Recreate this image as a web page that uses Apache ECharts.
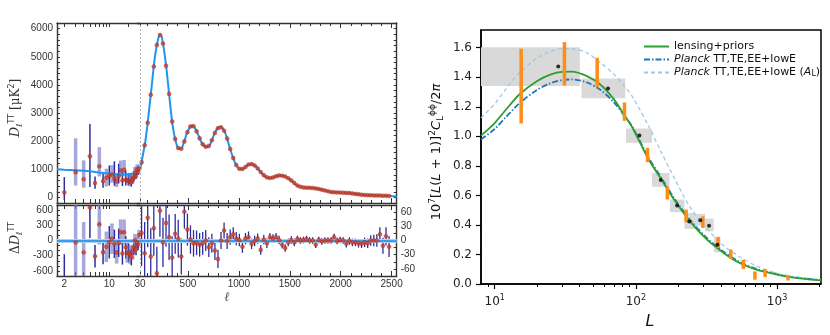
<!DOCTYPE html>
<html lang="en">
<head>
<meta charset="UTF-8">
<title>Planck TT spectrum and lensing power spectrum</title>
<script src="https://cdn.jsdelivr.net/npm/echarts@6.0.0/dist/echarts.min.js"></script>
<style>
  html, body { margin: 0; padding: 0; background: #fff; }
  #chart { width: 830px; height: 335px; }
</style>
</head>
<body>
<div id="chart"></div>
<script>
// ---------- left panel, low multipoles (log part, 2-29) ----------
const lowL = [2, 3, 4, 5, 6, 7, 8, 9, 10, 11, 12, 13, 14, 15, 16, 17, 18, 19, 20, 21, 22, 23, 24, 25, 26, 27, 28, 29];
const lowD = [175, 890, 645, 1460, 510, 1105, 575, 700, 770, 816, 663, 567, 745, 960, 603, 980, 627, 603, 590, 560, 540, 620, 700, 880, 760, 1000, 900, 1020];
const lowUp = [545, 1210, 670, 1150, 235, 680, 320, 320, 365, 330, 620, 300, 450, 350, 300, 350, 320, 250, 280, 300, 250, 220, 200, 200, 180, 170, 160, 150];
const lowDn = [260, 470, 300, 1090, 200, 360, 230, 310, 345, 300, 250, 200, 250, 200, 200, 230, 200, 180, 160, 170, 150, 140, 130, 120, 110, 100, 100, 90];
const lowLight = [0, 1, 1, 0, 0, 1, 0, 1, 0, 1, 0, 1, 0, 1, 0, 1, 0, 1, 0, 1, 0, 1, 0, 1, 0, 1, 0, 1];
const lowRes = [-820, -40, -235, 650, -310, 320, -230, -125, -35, 35, -65, -235, -45, 165, -255, 165, -135, -240, -240, -280, -330, -230, -140, 0, -170, -40, -80, 110];
const lowResErr = [550, 800, 600, 600, 220, 400, 240, 300, 320, 300, 280, 220, 280, 250, 220, 250, 220, 200, 180, 180, 160, 150, 140, 130, 120, 110, 110, 100];

// best-fit model curve
const lowModelL = [1.54, 2, 3, 4, 5, 6, 8, 10, 13, 16, 20, 25, 30];
const lowModelD = [1000, 985, 965, 945, 925, 905, 870, 845, 820, 810, 820, 870, 960];
const hiModelL = [30, 45, 60, 80, 100, 120, 140, 160, 180, 200, 215, 230, 245, 265, 290, 320, 350, 380, 410, 435,
  460, 490, 520, 545, 570, 600, 630, 660, 690, 720, 750, 780, 810, 840, 870, 900, 930, 960, 990, 1020,
  1050, 1080, 1110, 1140, 1170, 1200, 1230, 1260, 1290, 1320, 1350, 1380, 1410, 1440, 1470, 1500, 1530, 1560, 1590, 1620,
  1660, 1700, 1740, 1780, 1820, 1860, 1900, 1950, 2000, 2050, 2100, 2150, 2200, 2250, 2300, 2350, 2400, 2450, 2500, 2550];
const hiModelD = [960, 1250, 1550, 1950, 2500, 3150, 3800, 4500, 5100, 5500, 5720, 5790, 5680, 5250, 4550, 3500, 2550, 2000, 1720, 1730,
  1950, 2280, 2500, 2560, 2460, 2230, 1980, 1820, 1790, 1900, 2180, 2400, 2500, 2460, 2260, 1900, 1550, 1250, 1060, 1000,
  1030, 1130, 1190, 1170, 1090, 960, 840, 740, 690, 690, 730, 770, 780, 760, 710, 640, 560, 460, 390, 360,
  345, 338, 330, 305, 270, 230, 195, 178, 170, 162, 145, 122, 95, 80, 72, 68, 62, 55, 45, 35];

// ---------- left panel, binned high multipoles (linear part) ----------
const hiL = [45, 75, 105, 135, 165, 195, 225, 255, 285, 315, 345,
  375, 405, 435, 465, 495, 525, 555, 585, 615, 645, 675,
  705, 735, 765, 795, 825, 855, 885, 915, 945, 975, 1005,
  1035, 1065, 1095, 1125, 1155, 1185, 1215, 1245, 1275, 1305, 1335,
  1365, 1395, 1425, 1455, 1485, 1515, 1545, 1575, 1605, 1635, 1665,
  1695, 1725, 1755, 1785, 1815, 1845, 1875, 1905, 1935, 1965, 1995,
  2025, 2055, 2085, 2115, 2145, 2175, 2205, 2235, 2265, 2295, 2325,
  2355, 2385, 2415, 2445, 2475];
const hiD = [1250, 1850, 2650, 3650, 4650, 5420, 5770, 5470, 4680, 3680, 2700,
  2080, 1760, 1730, 1990, 2320, 2520, 2530, 2350, 2100, 1890, 1800,
  1830, 2030, 2290, 2460, 2490, 2370, 2090, 1720, 1400, 1150, 1020,
  1010, 1080, 1165, 1185, 1135, 1030, 900, 790, 712, 688, 708,
  752, 778, 772, 738, 678, 602, 512, 425, 374, 354, 344,
  339, 333, 320, 300, 274, 245, 220, 194, 183, 175, 170,
  166, 160, 152, 138, 123, 108, 94, 84, 78, 73, 70,
  67, 64, 60, 56, 50];
const hiRes = [16, -27, 48, -34, 26, -69, 63, -4, 37, 7, -36,
  14, 4, -34, 61, 23, 2, -6, -5, -9, -6, 0,
  -14, -6, -21, -39, 0, 21, -1, 7, 13, 4, 1,
  -13, 4, 7, -7, -1, 4, -20, 2, -6, 7, 4,
  7, 1, -9, -16, -4, 1, -4, 3, 0, 1, 3,
  0, 0, -9, 1, -2, 0, 0, 0, 7, -1, 1,
  0, -7, -1, -4, -4, -6, -7, -4, -6, 0, 0,
  0, 13, -11, 9, -13];
const hiErr = [70, 66, 62, 60, 58, 56, 55, 52, 50, 48, 45,
  42, 40, 38, 36, 34, 30, 28, 26, 25, 24, 22,
  21, 20, 20, 19, 18, 17, 17, 16, 15, 14, 13,
  13, 12, 12, 11, 11, 11, 10, 10, 10, 9, 9,
  9, 9, 8, 8, 8, 8, 8, 7, 7, 7, 7,
  7, 7, 7, 7, 7, 7, 7, 7, 7, 7, 7,
  7, 8, 8, 8, 8, 9, 9, 10, 10, 11, 12,
  13, 15, 17, 19, 22];

// left panel tick labels
const lowTicks = [2, 3, 4, 5, 6, 7, 8, 9, 10, 20, 30];
const lowLabels = [2, 10];
const hiTicks = [500, 1000, 1500, 2000, 2500];
const hiLabels = [30, 500, 1000, 1500, 2000, 2500];
const ttLabels = [0, 1000, 2000, 3000, 4000, 5000, 6000];
const resLowLabels = [-600, -300, 0, 300, 600];
const resHiLabels = [60, 30, 0, -30, -60];

// ---------- right panel: lensing potential spectrum ----------
const lensL = [8, 10, 12, 15, 20, 25, 30, 35, 45, 56, 70, 82, 95, 123, 150, 190, 242, 319, 416, 543, 714, 940, 1235, 2048];
const priorsV = [1.005, 1.09, 1.18, 1.285, 1.375, 1.42, 1.437, 1.438, 1.408, 1.351, 1.25, 1.15, 1.055, 0.845, 0.715, 0.56, 0.424, 0.30, 0.212, 0.142, 0.097, 0.07, 0.047, 0.024];
const planckV = [0.978, 1.05, 1.13, 1.225, 1.315, 1.36, 1.382, 1.385, 1.365, 1.315, 1.23, 1.145, 1.06, 0.855, 0.725, 0.57, 0.435, 0.31, 0.22, 0.15, 0.102, 0.073, 0.05, 0.026];
const planckALV = [1.125, 1.22, 1.32, 1.43, 1.53, 1.575, 1.594, 1.593, 1.565, 1.5, 1.42, 1.345, 1.265, 1.07, 0.9, 0.705, 0.52, 0.375, 0.262, 0.185, 0.122, 0.08, 0.054, 0.028];

// grey bins (band powers) and their centres
const binLmin = [8, 41.2, 85.2, 130, 174, 221, 262, 309, 358];
const binLmax = [40.1, 84.2, 130, 173, 221, 262, 309, 356, 398];
const binVmin = [1.34, 1.257, 0.956, 0.658, 0.486, 0.373, 0.395, 0.357, 0.214];
const binVmax = [1.604, 1.392, 1.053, 0.752, 0.572, 0.481, 0.475, 0.443, 0.319];
const dotL = [28.2, 63.5, 106, 150, 196, 239, 286, 330, 378];
const dotV = [1.473, 1.324, 1.005, 0.705, 0.531, 0.424, 0.431, 0.395, 0.266];

// orange error bars
const orL = [15.4, 31.2, 53.2, 83, 121, 167, 227, 298, 382, 470, 577, 697, 823, 1196];
const orLo = [1.087, 1.345, 1.336, 1.105, 0.825, 0.572, 0.418, 0.38, 0.244, 0.169, 0.102, 0.029, 0.047, 0.024];
const orHi = [1.593, 1.638, 1.532, 1.229, 0.922, 0.658, 0.504, 0.458, 0.319, 0.233, 0.165, 0.085, 0.102, 0.056];

const lensTicks = [10, 100, 1000];
const lensMinor = [9, 20, 30, 40, 50, 60, 70, 80, 90, 200, 300, 400, 500, 600, 700, 800, 900, 2000];
const lensYLabels = [0, 0.2, 0.4, 0.6, 0.8, 1.0, 1.2, 1.4, 1.6];

// ---------- helpers ----------
const zip = (a, b) => a.map((v, i) => [v, b[i]]);
const axisCol = '#333';
const leftFont = { fontSize: 10, color: '#333', fontFamily: 'Liberation Sans', formatter: v => String(v) };

function lowX(grid, pos, labels) {
  return {
    type: 'log', logBase: 10, gridIndex: grid, position: pos, min: 1.54, max: 30,
    axisLine: { show: true, onZero: false, lineStyle: { color: axisCol, width: 1.4 } },
    axisTick: { show: true, inside: true, length: 4, customValues: lowTicks, lineStyle: { color: axisCol } },
    axisLabel: labels ? Object.assign({ show: true, customValues: labels, margin: 3 }, leftFont) : { show: false },
    splitLine: { show: false }
  };
}
function highX(grid, pos, labels) {
  return {
    type: 'value', gridIndex: grid, position: pos, min: 0, max: 2550, interval: 500,
    axisLine: { show: true, onZero: false, lineStyle: { color: axisCol, width: 1.4 } },
    axisTick: { show: true, inside: true, length: 5, customValues: hiTicks, lineStyle: { color: axisCol } },
    minorTick: { show: true, splitNumber: 5, length: 3, lineStyle: { color: axisCol } },
    axisLabel: labels ? Object.assign({ show: true, customValues: labels, margin: 3 }, leftFont) : { show: false },
    splitLine: { show: false }, minorSplitLine: { show: false }
  };
}
function leftY(grid, pos, min, max, step, labels) {
  return {
    type: 'value', gridIndex: grid, position: pos, min: min, max: max, interval: step,
    axisLine: { show: true, onZero: false, lineStyle: { color: axisCol, width: 1.4 } },
    axisTick: { show: true, inside: true, length: 3, lineStyle: { color: axisCol } },
    axisLabel: labels ? Object.assign({ show: true, customValues: labels, margin: 4 }, leftFont) : { show: false },
    splitLine: { show: false }
  };
}
function vbar(lineWidthFn, colorFn) {
  return function (params, api) {
    const a = api.coord([api.value(0), api.value(1)]);
    const b = api.coord([api.value(0), api.value(2)]);
    return {
      type: 'line',
      shape: { x1: a[0], y1: a[1], x2: b[0], y2: b[1] },
      style: { stroke: colorFn(api), lineWidth: lineWidthFn(api) }
    };
  };
}
const lowBarWidth = api => api.value(3) ? 3.5 : 1.5;
const lowBarColor = api => api.value(3) ? 'rgba(120,120,200,0.65)' : '#2d2d9e';

const redDot = { color: '#dd3b20', borderColor: '#7d1c10', borderWidth: 0.4 };
const vline30 = { xAxis: 30, lineStyle: { color: '#b0b0b0', type: [2, 2], width: 1 } };
const zeroBand = { yAxis: 0, lineStyle: { color: '#a9d2f5', width: 4, type: 'solid' } };
const zeroLine = { yAxis: 0, lineStyle: { color: '#1a8ae6', width: 1.5, type: 'solid' } };
const mk = data => ({ silent: true, symbol: 'none', label: { show: false }, data: data });

const sup = { fontSize: 8, verticalAlign: 'top', lineHeight: 8, fontFamily: 'DejaVu Sans' };
const sub = { fontSize: 8, verticalAlign: 'bottom', lineHeight: 8, fontFamily: 'DejaVu Sans' };

const chart = echarts.init(document.getElementById('chart'), null, { renderer: 'canvas' });
chart.setOption({
  animation: false,
  backgroundColor: '#fff',
  grid: [
    { left: 57, top: 23, width: 83, height: 180 },
    { left: 137, top: 23, width: 259.7, height: 180 },
    { left: 57, top: 205, width: 83, height: 71 },
    { left: 137, top: 205, width: 259.7, height: 71 },
    { left: 481, top: 30, width: 340, height: 254, show: true, borderColor: '#000', borderWidth: 1.5 }
  ],
  xAxis: [
    lowX(0, 'bottom', null), lowX(0, 'top', null),
    highX(1, 'bottom', null), highX(1, 'top', null),
    lowX(2, 'bottom', lowLabels), lowX(2, 'top', null),
    highX(3, 'bottom', hiLabels), highX(3, 'top', null),
    {
      type: 'log', logBase: 10, gridIndex: 4, position: 'bottom', min: 8, max: 2048,
      axisLine: { show: true, onZero: false, lineStyle: { color: '#000', width: 1.5 } },
      axisTick: { show: true, length: 5, customValues: lensTicks, lineStyle: { color: '#000', width: 1.2 } },
      axisLabel: {
        show: true, customValues: lensTicks, margin: 10,
        formatter: v => '{b|10}{s|' + Math.round(Math.log10(v)) + '}',
        rich: {
          b: { fontSize: 12, fontFamily: 'DejaVu Sans', color: '#222', lineHeight: 16 },
          s: { fontSize: 8, fontFamily: 'DejaVu Sans', color: '#222', verticalAlign: 'top', lineHeight: 9 }
        }
      },
      splitLine: { show: false }
    },
    {
      type: 'log', logBase: 10, gridIndex: 4, position: 'bottom', min: 8, max: 2048,
      axisLine: { show: false, onZero: false },
      axisTick: { show: true, length: 3, customValues: lensMinor, lineStyle: { color: '#000', width: 1 } },
      axisLabel: { show: false }, splitLine: { show: false }
    }
  ],
  yAxis: [
    leftY(0, 'left', -200, 6200, 200, ttLabels),
    leftY(1, 'right', -200, 6200, 200, null),
    leftY(2, 'left', -700, 700, 100, resLowLabels),
    leftY(3, 'right', -75, 75, 15, resHiLabels),
    {
      type: 'value', gridIndex: 4, position: 'left', min: 0, max: 1.72,
      axisLine: { show: true, onZero: false, lineStyle: { color: '#000', width: 1.5 } },
      axisTick: { show: true, length: 5, customValues: lensYLabels, lineStyle: { color: '#000', width: 1.2 } },
      axisLabel: {
        show: true, customValues: lensYLabels, margin: 9, formatter: v => v.toFixed(1),
        fontSize: 12, fontFamily: 'DejaVu Sans', color: '#222'
      },
      splitLine: { show: false }
    }
  ],
  legend: {
    orient: 'vertical', left: 638, top: 36, itemWidth: 25, itemHeight: 10, itemGap: 2,
    itemStyle: { opacity: 0 },
    data: ['lensing+priors', 'Planck TT,TE,EE+lowE', 'Planck TT,TE,EE+lowE (AL)'],
    formatter: name => name === 'lensing+priors' ? name
      : (name.indexOf('(AL)') > 0 ? '{i|Planck} TT,TE,EE+lowE ({i|A}{sb|L})' : '{i|Planck} TT,TE,EE+lowE'),
    textStyle: {
      fontSize: 11, fontFamily: 'DejaVu Sans', color: '#111',
      rich: {
        i: { fontSize: 11, fontFamily: 'DejaVu Sans', fontStyle: 'italic', color: '#111' },
        sb: { fontSize: 8, fontFamily: 'DejaVu Sans', color: '#111', verticalAlign: 'bottom', lineHeight: 8 }
      }
    }
  },
  graphic: [
    {
      type: 'text', x: 16, y: 108, rotation: Math.PI / 2,
      style: {
        text: '{m|D}{sb|ℓ}{sp|TT} [μK{sp|2}]', align: 'center', verticalAlign: 'middle',
        fontSize: 12, fontFamily: 'DejaVu Serif', fill: '#333',
        rich: { m: { fontSize: 13, fontStyle: 'italic', fontFamily: 'DejaVu Serif', lineHeight: 16 }, sp: sup, sb: sub }
      }
    },
    {
      type: 'text', x: 16, y: 238, rotation: Math.PI / 2,
      style: {
        text: 'Δ{m|D}{sb|ℓ}{sp|TT}', align: 'center', verticalAlign: 'middle',
        fontSize: 12, fontFamily: 'DejaVu Serif', fill: '#333',
        rich: { m: { fontSize: 13, fontStyle: 'italic', fontFamily: 'DejaVu Serif', lineHeight: 16 }, sp: sup, sb: sub }
      }
    },
    {
      type: 'text', x: 227, y: 298,
      style: { text: 'ℓ', align: 'center', verticalAlign: 'middle', fontSize: 13, fontStyle: 'italic', fontFamily: 'DejaVu Serif', fill: '#555' }
    },
    {
      type: 'text', x: 437, y: 152, rotation: Math.PI / 2,
      style: {
        text: '10{sp|7}[{i|L}({i|L} + 1)]{sp|2}{i|C}{sb|L}{sp|ϕϕ}/2{i|π}', align: 'center', verticalAlign: 'middle',
        fontSize: 13, fontFamily: 'DejaVu Sans', fill: '#111',
        rich: {
          i: { fontSize: 13, fontStyle: 'italic', fontFamily: 'DejaVu Sans', lineHeight: 17 },
          sp: { fontSize: 9, verticalAlign: 'top', lineHeight: 9, fontFamily: 'DejaVu Sans' },
          sb: { fontSize: 9, verticalAlign: 'bottom', lineHeight: 9, fontFamily: 'DejaVu Sans' }
        }
      }
    },
    {
      type: 'text', x: 650, y: 322,
      style: { text: 'L', align: 'center', verticalAlign: 'middle', fontSize: 16, fontStyle: 'italic', fontFamily: 'DejaVu Sans', fill: '#111' }
    }
  ],
  series: [
    // ---- left top: TT spectrum ----
    {
      type: 'line', xAxisIndex: 0, yAxisIndex: 0, data: zip(lowModelL, lowModelD), smooth: 0.3,
      symbol: 'none', lineStyle: { color: '#1e96f0', width: 2 }, z: 3
    },
    {
      type: 'line', xAxisIndex: 2, yAxisIndex: 1, data: zip(hiModelL, hiModelD), smooth: 0.3,
      symbol: 'none', lineStyle: { color: '#1e96f0', width: 2 }, z: 3,
      markLine: mk([vline30])
    },
    {
      type: 'custom', xAxisIndex: 0, yAxisIndex: 0, clip: true, z: 2,
      renderItem: vbar(lowBarWidth, lowBarColor),
      encode: { x: 0, y: [1, 2] },
      data: lowL.map((l, i) => [l, lowD[i] - lowDn[i], lowD[i] + lowUp[i], lowLight[i]])
    },
    {
      type: 'scatter', xAxisIndex: 0, yAxisIndex: 0, data: zip(lowL, lowD),
      symbolSize: 4, itemStyle: redDot, z: 4
    },
    {
      type: 'scatter', xAxisIndex: 2, yAxisIndex: 1, data: zip(hiL, hiD),
      symbolSize: 4, itemStyle: redDot, z: 4
    },
    // ---- left bottom: residuals ----
    {
      type: 'custom', xAxisIndex: 4, yAxisIndex: 2, clip: true, z: 2,
      renderItem: vbar(lowBarWidth, lowBarColor),
      encode: { x: 0, y: [1, 2] },
      data: lowL.map((l, i) => [l, lowRes[i] - lowResErr[i], lowRes[i] + lowResErr[i], lowLight[i]])
    },
    {
      type: 'scatter', xAxisIndex: 4, yAxisIndex: 2, data: zip(lowL, lowRes), clip: true,
      symbolSize: 4, itemStyle: redDot, z: 6,
      markLine: mk([zeroBand, zeroLine])
    },
    {
      type: 'custom', xAxisIndex: 6, yAxisIndex: 3, clip: true, z: 2,
      renderItem: vbar(() => 1.3, () => '#2d2d9e'),
      encode: { x: 0, y: [1, 2] },
      data: hiL.map((l, i) => [l, hiRes[i] - hiErr[i], hiRes[i] + hiErr[i]])
    },
    {
      type: 'scatter', xAxisIndex: 6, yAxisIndex: 3, data: zip(hiL, hiRes), clip: true,
      symbolSize: 4, itemStyle: redDot, z: 6,
      markLine: mk([zeroBand, zeroLine, vline30])
    },
    // ---- right: lensing spectrum ----
    {
      type: 'custom', xAxisIndex: 8, yAxisIndex: 4, clip: true, z: 1,
      encode: { x: [0, 1], y: [2, 3] },
      renderItem: function (params, api) {
        const p0 = api.coord([api.value(0), api.value(3)]);
        const p1 = api.coord([api.value(1), api.value(2)]);
        return {
          type: 'rect',
          shape: { x: p0[0], y: p0[1], width: p1[0] - p0[0], height: p1[1] - p0[1] },
          style: { fill: '#d9d9d9' }
        };
      },
      data: binLmin.map((l, i) => [l, binLmax[i], binVmin[i], binVmax[i]])
    },
    {
      name: 'lensing+priors', type: 'line', xAxisIndex: 8, yAxisIndex: 4, data: zip(lensL, priorsV),
      smooth: 0.3, symbol: 'none', z: 4, lineStyle: { color: '#2ca02c', width: 1.8 }, itemStyle: { color: '#2ca02c' }
    },
    {
      name: 'Planck TT,TE,EE+lowE', type: 'line', xAxisIndex: 8, yAxisIndex: 4, data: zip(lensL, planckV),
      smooth: 0.3, symbol: 'none', z: 3, lineStyle: { color: '#1f77b4', width: 1.8, type: [6, 2, 1.5, 2] }, itemStyle: { color: '#1f77b4' }
    },
    {
      name: 'Planck TT,TE,EE+lowE (AL)', type: 'line', xAxisIndex: 8, yAxisIndex: 4, data: zip(lensL, planckALV),
      smooth: 0.3, symbol: 'none', z: 3, lineStyle: { color: '#9ec8e6', width: 1.3, type: [4, 3] }, itemStyle: { color: '#9ec8e6' }
    },
    {
      type: 'custom', xAxisIndex: 8, yAxisIndex: 4, clip: true, z: 5,
      renderItem: vbar(() => 3.5, () => '#ff8c14'),
      encode: { x: 0, y: [1, 2] },
      data: orL.map((l, i) => [l, orLo[i], orHi[i]])
    },
    {
      type: 'scatter', xAxisIndex: 8, yAxisIndex: 4, data: zip(dotL, dotV),
      symbolSize: 4, itemStyle: { color: '#000' }, z: 6
    }
  ]
});
</script>
</body>
</html>
